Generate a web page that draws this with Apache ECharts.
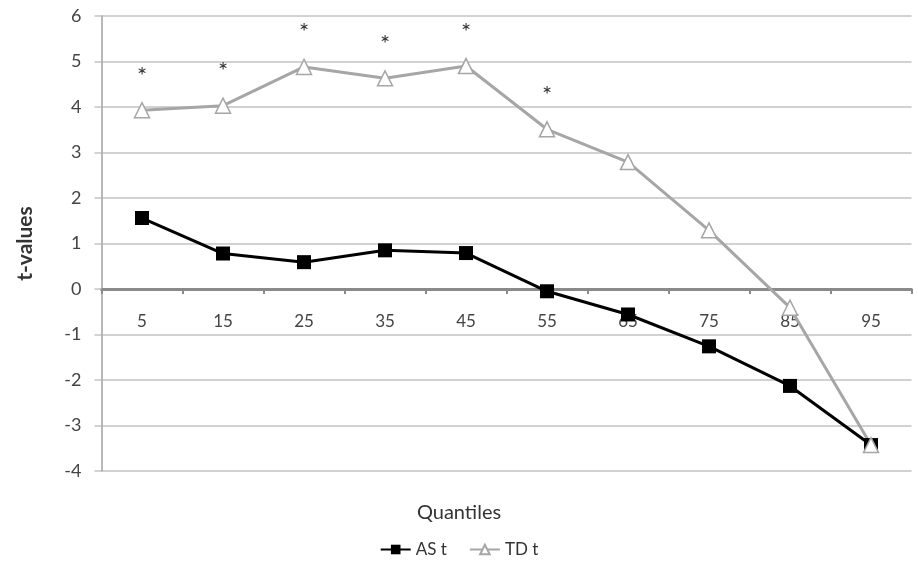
<!DOCTYPE html>
<html>
<head>
<meta charset="utf-8">
<script src="https://cdn.jsdelivr.net/npm/echarts@6/dist/echarts.min.js"></script>
<style>
  html, body { margin: 0; padding: 0; background: #fff; }
  #main { width: 918px; height: 564px; }
</style>
</head>
<body>
<div id="main"></div>
<script>
// quantiles on the x axis
const quantiles = ['5', '15', '25', '35', '45', '55', '65', '75', '85', '95'];
// t-values
const asT = [1.56, 0.78, 0.59, 0.85, 0.79, -0.05, -0.56, -1.26, -2.13, -3.43];
const tdT = [3.93, 4.03, 4.88, 4.63, 4.9, 3.51, 2.79, 1.29, -0.41, -3.43];
// significance marks above TD t
const sigMarks = ['*', '*', '*', '*', '*', '*', '', '', '', ''];

const font = 'Lato, "Open Sans", sans-serif';
const gridGray = '#c3c3c3';
const yMin = -4, yMax = 6;
const gridTop = 16, gridBottom = 93;

// x axis sits at y = 0, so shift it up from the bottom of the grid
const plotH = 564 - gridTop - gridBottom;
const zeroOffset = -plotH * (0 - yMin) / (yMax - yMin);

const myChart = echarts.init(document.getElementById('main'));
myChart.setOption({
  animation: false,
  textStyle: { fontFamily: font },
  title: {
    text: 'Quantiles',
    left: 'center',
    top: 498,
    textStyle: { fontFamily: font, fontSize: 20, fontWeight: 'normal', color: '#333' }
  },
  legend: {
    bottom: 1,
    left: 'center',
    itemWidth: 30,
    itemHeight: 12,
    itemGap: 22,
    textStyle: { fontFamily: font, fontSize: 17, color: '#333' },
    data: ['AS t', 'TD t']
  },
  grid: { left: 101.5, right: 6.5, top: gridTop, bottom: gridBottom },
  xAxis: {
    type: 'category',
    data: quantiles,
    boundaryGap: true,
    offset: zeroOffset,
    axisLine: { onZero: false, lineStyle: { color: '#8a8a8a', width: 3 } },
    axisTick: { show: true, length: 5, lineStyle: { color: '#8a8a8a', width: 2 } },
    axisLabel: { margin: 24, fontSize: 17, color: '#444', fontFamily: font },
    splitLine: { show: false }
  },
  yAxis: {
    type: 'value',
    min: yMin,
    max: yMax,
    interval: 1,
    name: 't-values',
    nameLocation: 'middle',
    nameGap: 66,
    nameRotate: 90,
    nameTextStyle: { fontSize: 21, fontWeight: 'bold', color: '#333', fontFamily: font },
    axisLine: { show: true, lineStyle: { color: '#a0a0a0', width: 1.5 } },
    axisTick: { show: true, length: 7, lineStyle: { color: gridGray, width: 1.5 } },
    axisLabel: { margin: 20, fontSize: 18, color: '#444', fontFamily: font },
    splitLine: { lineStyle: { color: gridGray, width: 1.5 } }
  },
  series: [{
    name: 'AS t',
    type: 'line',
    data: asT,
    symbol: 'rect',
    symbolSize: 14,
    itemStyle: { color: '#000' },
    lineStyle: { color: '#000', width: 3 }
  }, {
    name: 'TD t',
    type: 'line',
    data: tdT,
    symbol: 'triangle',
    symbolSize: 15,
    itemStyle: { color: '#fff', borderColor: '#a6a6a6', borderWidth: 1.5 },
    lineStyle: { color: '#a6a6a6', width: 3 },
    label: {
      show: true,
      position: 'top',
      distance: 14,
      fontSize: 24,
      color: '#333',
      fontFamily: font,
      formatter: function (p) { return sigMarks[p.dataIndex]; }
    }
  }]
});
window.onresize = myChart.resize;
</script>
</body>
</html>
